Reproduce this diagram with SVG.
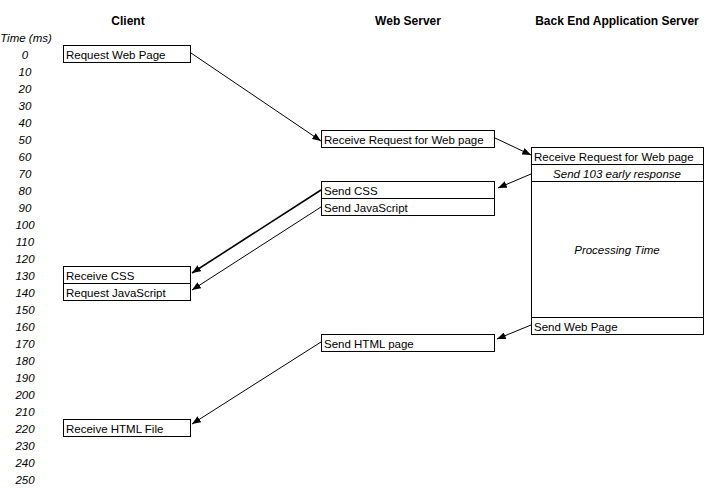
<svg xmlns="http://www.w3.org/2000/svg" width="715" height="489" viewBox="0 0 715 489">
<style>
text{font-family:"Liberation Sans",Arial,sans-serif;font-size:11.5px;fill:#000}
.h{font-weight:bold;font-size:12px;text-anchor:middle}
.t{font-style:italic;text-anchor:middle}
.i{font-style:italic;text-anchor:middle}
.b{fill:#fff;stroke:#000;stroke-width:1}
.c{stroke:#000;stroke-width:1;fill:none;marker-end:url(#ah)}
.c2{stroke:#000;stroke-width:1.6;fill:none;marker-end:url(#ah2)}
</style>
<defs>
<marker id="ah" viewBox="0 0 10 8" refX="10" refY="4" markerWidth="9" markerHeight="7" markerUnits="userSpaceOnUse" orient="auto"><path d="M0,0 L10,4 L0,8 Z" fill="#000"/></marker>
<marker id="ah2" viewBox="0 0 10 8" refX="10" refY="4" markerWidth="9" markerHeight="7" markerUnits="userSpaceOnUse" orient="auto"><path d="M0,0 L10,4 L0,8 Z" fill="#000"/></marker>
</defs>
<rect width="715" height="489" fill="#fff"/>
<g id="headers">
<text class="h" x="128" y="25">Client</text>
<text class="h" x="408" y="25">Web Server</text>
<text class="h" x="617" y="25">Back End Application Server</text>
</g>
<g id="timeline">
<text class="t" x="26" y="42">Time (ms)</text>
<text class="t" x="25" y="59">0</text>
<text class="t" x="25" y="76">10</text>
<text class="t" x="25" y="93">20</text>
<text class="t" x="25" y="110">30</text>
<text class="t" x="25" y="127">40</text>
<text class="t" x="25" y="144">50</text>
<text class="t" x="25" y="161">60</text>
<text class="t" x="25" y="178">70</text>
<text class="t" x="25" y="195">80</text>
<text class="t" x="25" y="212">90</text>
<text class="t" x="25" y="229">100</text>
<text class="t" x="25" y="246">110</text>
<text class="t" x="25" y="263">120</text>
<text class="t" x="25" y="280">130</text>
<text class="t" x="25" y="297">140</text>
<text class="t" x="25" y="314">150</text>
<text class="t" x="25" y="331">160</text>
<text class="t" x="25" y="348">170</text>
<text class="t" x="25" y="365">180</text>
<text class="t" x="25" y="382">190</text>
<text class="t" x="25" y="399">200</text>
<text class="t" x="25" y="416">210</text>
<text class="t" x="25" y="433">220</text>
<text class="t" x="25" y="450">230</text>
<text class="t" x="25" y="467">240</text>
<text class="t" x="25" y="484">250</text>
</g>
<g id="client-request">
<rect class="b" x="63.5" y="45.5" width="127" height="17"/>
<text x="66" y="59">Request Web Page</text>
</g>
<g id="web-receive">
<rect class="b" x="321.5" y="130.5" width="173" height="17"/>
<text x="324" y="144">Receive Request for Web page</text>
</g>
<g id="backend">
<rect class="b" x="531.5" y="147.5" width="172" height="187"/>
<line x1="531.5" y1="164.5" x2="703.5" y2="164.5" stroke="#000"/>
<line x1="531.5" y1="181.5" x2="703.5" y2="181.5" stroke="#000"/>
<line x1="531.5" y1="317.5" x2="703.5" y2="317.5" stroke="#000"/>
<text x="534" y="161">Receive Request for Web page</text>
<text class="i" x="617" y="178">Send 103 early response</text>
<text class="i" x="617" y="254">Processing Time</text>
<text x="534" y="331">Send Web Page</text>
</g>
<g id="web-send-css">
<rect class="b" x="321.5" y="181.5" width="173" height="17"/>
<text x="324" y="195">Send CSS</text>
</g>
<g id="web-send-js">
<rect class="b" x="321.5" y="198.5" width="173" height="17"/>
<text x="324" y="212">Send JavaScript</text>
</g>
<g id="client-receive-css">
<rect class="b" x="63.5" y="266.5" width="127" height="17"/>
<text x="66" y="280">Receive CSS</text>
</g>
<g id="client-request-js">
<rect class="b" x="63.5" y="283.5" width="127" height="17"/>
<text x="66" y="297">Request JavaScript</text>
</g>
<g id="web-send-html">
<rect class="b" x="321.5" y="334.5" width="173" height="17"/>
<text x="324" y="348">Send HTML page</text>
</g>
<g id="client-receive-html">
<rect class="b" x="63.5" y="419.5" width="127" height="17"/>
<text x="66" y="433">Receive HTML File</text>
</g>
<g id="connectors">
<line class="c" x1="191" y1="53" x2="321" y2="141"/>
<line class="c" x1="495" y1="138" x2="531" y2="155"/>
<line class="c" x1="531" y1="174" x2="498" y2="188"/>
<line class="c2" x1="321" y1="190" x2="192" y2="273"/>
<line class="c" x1="321" y1="207" x2="192" y2="290"/>
<line class="c" x1="531" y1="325" x2="497" y2="339"/>
<line class="c" x1="321" y1="342" x2="192" y2="424"/>
</g>
</svg>
